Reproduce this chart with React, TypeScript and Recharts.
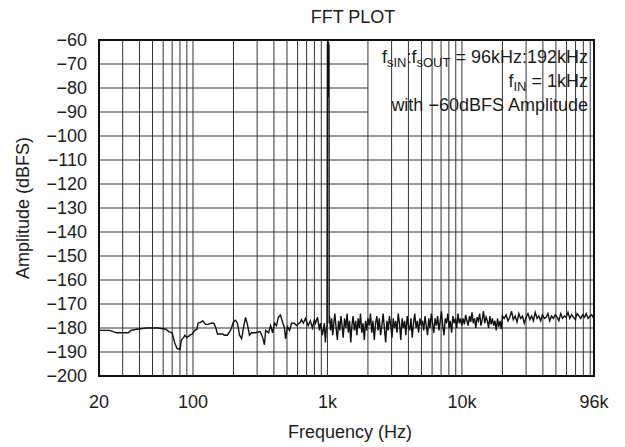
import { LineChart, Line, XAxis, YAxis, CartesianGrid, ReferenceLine, ReferenceArea } from 'recharts';

// noise floor below the tone, [Hz, dBFS]
const lowBand = [
  [20, -181], [24, -181], [27, -182], [30, -182], [33, -182], [34.5, -181], [38, -180.5], [45, -180],
  [55, -180], [63, -180.5], [66, -181.5], [70, -182], [73, -186], [76, -188.5], [80, -189], [82, -185],
  [85, -184], [87, -183], [90, -184], [95, -183], [99, -182.5], [103, -181], [107, -180.5], [109, -178],
  [115, -177.5], [118, -177], [124, -178.5], [130, -178.5], [136, -178], [143, -178], [148, -180],
  [152, -182.5], [165, -182.5], [172, -183], [180, -183], [190, -181], [200, -177.5], [207, -176.8],
  [214, -178], [222, -183], [230, -184.5], [238, -179.5], [246, -175.6], [254, -178.5], [263, -183],
  [273, -182], [292, -182], [316, -181.5], [330, -184], [340, -187], [347, -181], [365, -182],
  [378, -179], [391, -182], [404, -178], [418, -179], [432, -175.5], [447, -174.6], [463, -177.5],
  [479, -180], [488, -184.5], [505, -179.5], [523, -181], [540, -178], [568, -178], [588, -179],
  [630, -177.5], [640, -176.5], [662, -178], [686, -176], [720, -179], [746, -177], [773, -180],
  [800, -176.5], [815, -178], [843, -175.5], [872, -181], [887, -178], [918, -183], [948, -178],
  [965, -186], [982, -180],
];

// the 1 kHz input tone
const tone = [
  [992, -179], [1000, -62], [1004, -60], [1008, -84], [1012, -60], [1016, -84], [1020, -61],
  [1024, -84], [1027, -62], [1030, -178],
];

// noise floor above the tone
const highBand = [
  [1035, -175], [1055, -181], [1075, -176], [1095, -183], [1115, -178], [1135, -174], [1160, -180],
  [1185, -185], [1210, -177], [1235, -181], [1260, -175], [1285, -179], [1310, -184], [1340, -176],
  [1370, -180], [1400, -174], [1430, -182], [1460, -177], [1490, -186], [1520, -179], [1550, -175],
  [1585, -181], [1620, -177], [1655, -183], [1690, -176], [1725, -180], [1760, -174], [1800, -182],
  [1840, -178], [1880, -185], [1920, -177], [1960, -181], [2000, -176],
  [2045, -179], [2090, -174], [2135, -182], [2180, -177], [2230, -185], [2280, -178], [2330, -175],
  [2380, -181], [2430, -176], [2485, -183], [2540, -179], [2595, -174], [2650, -180], [2710, -186],
  [2770, -177], [2830, -181], [2890, -175], [2955, -179], [3020, -184], [3085, -176], [3150, -180],
  [3220, -177], [3290, -182], [3360, -174], [3435, -178], [3510, -185], [3590, -176], [3670, -180],
  [3750, -177], [3830, -183], [3915, -175], [4000, -179], [4090, -181], [4180, -176], [4270, -184],
  [4365, -178], [4460, -174], [4560, -180], [4660, -177], [4760, -182], [4870, -176], [4980, -179],
  [5090, -177], [5200, -181], [5315, -175], [5430, -179], [5550, -183], [5670, -176], [5795, -180],
  [5920, -174], [6050, -178], [6185, -182], [6320, -176], [6460, -179], [6600, -175], [6745, -181],
  [6895, -177], [7045, -173], [7200, -179], [7360, -183], [7520, -176], [7685, -178], [7855, -174],
  [8030, -180], [8205, -177], [8385, -182], [8570, -175], [8760, -178], [8950, -176], [9150, -180],
  [9350, -174], [9555, -178], [9765, -176], [9980, -179],
  [10200, -176], [10430, -178.5], [10660, -174.5], [10890, -177], [11130, -179], [11380, -175],
  [11630, -177.5], [11890, -173.5], [12150, -178], [12420, -176], [12690, -180], [12970, -175.5],
  [13260, -177], [13550, -174], [13850, -179], [14160, -176.5], [14470, -173], [14790, -178],
  [15120, -175.5], [15450, -177], [15790, -180], [16140, -175], [16500, -178.5], [16860, -176],
  [17230, -179], [17610, -177], [18000, -181], [18400, -176], [18800, -179.5], [19220, -177],
  [19640, -180.5], [20000, -175],
  [20600, -176], [21300, -174.5], [22000, -177], [22700, -175.5], [23400, -173], [24100, -176.5],
  [24900, -175], [25700, -177.5], [26500, -174], [27300, -176], [28200, -175], [29100, -178],
  [30000, -175.5], [31000, -174], [32000, -176.5], [33000, -175], [34000, -177], [35100, -173.5],
  [36200, -176], [37300, -175], [38500, -177], [39700, -174.5], [41000, -176], [42300, -175.5],
  [43600, -174], [45000, -177], [46400, -175], [47900, -176], [49400, -174.5], [51000, -175.5],
  [52600, -177], [54300, -174], [56000, -176], [57800, -175], [59600, -175.5], [61500, -173.5],
  [63400, -176], [65400, -174.5], [67500, -175.5], [69700, -176.5], [71900, -174], [74200, -175],
  [76500, -176], [79000, -174.5], [81500, -175.5], [84000, -174], [86700, -176], [89500, -175],
  [92300, -174.5], [94500, -175.5], [96000, -175],
];

const xTicks = [20, 100, 1000, 10000, 96000];
const xTickLabels = ['20', '100', '1k', '10k', '96k'];
const yTicks = [-200, -190, -180, -170, -160, -150, -140, -130, -120, -110, -100, -90, -80, -70, -60];
const gridFreqs = [
  30, 40, 50, 60, 70, 80, 90, 100, 200, 300, 400, 500, 600, 700, 800, 900, 1000,
  2000, 3000, 4000, 5000, 6000, 7000, 8000, 9000, 10000, 20000, 30000, 40000, 50000,
  60000, 70000, 80000, 90000,
];

const data = [...lowBand, ...tone, ...highBand].map(([f, db]) => ({ f, db }));

const font = '"Liberation Sans", Arial, Helvetica, sans-serif';
const ink = '#1c1c1c';

export default function App() {
  return (
    <div style={{ position: 'absolute', left: 0, top: 0, width: 625, height: 447, background: '#fff', fontFamily: font }}>
      <LineChart width={625} height={447} data={data} margin={{ top: 40, right: 31, bottom: 41, left: 39 }}>
        <CartesianGrid vertical={false} stroke="#333" strokeOpacity={1} />
        {gridFreqs.map((g) => (
          <ReferenceLine key={g} x={g} stroke="#333" strokeWidth={1} />
        ))}
        {/* white box behind the annotation */}
        <ReferenceArea x1={2000} x2={96000} y1={-92} y2={-60} fill="#fff" fillOpacity={1} stroke="none" />
        <XAxis
          dataKey="f"
          type="number"
          scale="log"
          domain={[20, 96000]}
          allowDataOverflow
          ticks={xTicks}
          interval={0}
          tickFormatter={(v) => xTickLabels[xTicks.indexOf(v)]}
          axisLine={false}
          tickLine={false}
          tickSize={0}
          tickMargin={19}
          height={30}
          tick={{ fill: ink, fontSize: 18, fontFamily: font }}
        />
        <YAxis
          type="number"
          domain={[-200, -60]}
          ticks={yTicks}
          interval={0}
          tickFormatter={(v) => String(v).replace('-', '\u2212')}
          axisLine={false}
          tickLine={false}
          tickSize={0}
          tickMargin={12}
          width={60}
          tick={{ fill: ink, fontSize: 18, fontFamily: font }}
        />
        <Line type="linear" dataKey="db" stroke="#111" strokeWidth={1.4} dot={false} isAnimationActive={false} />
        <ReferenceArea x1={20} x2={96000} y1={-200} y2={-60} fill="none" stroke="#111" strokeWidth={2} />
      </LineChart>
      <svg width={625} height={447} style={{ position: 'absolute', left: 0, top: 0, pointerEvents: 'none' }}>
        <g fontFamily={font} fill={ink} fontSize={18}>
          <text x={353} y={23} textAnchor="middle">FFT PLOT</text>
          <text x={350} y={438} textAnchor="middle">Frequency (Hz)</text>
          <text x={29} y={208} textAnchor="middle" transform="rotate(-90 29 208)">Amplitude (dBFS)</text>
          <text x={588} y={63} textAnchor="end">
            f<tspan fontSize={13} dy={4}>sIN</tspan>
            <tspan dy={-4}>:f</tspan>
            <tspan fontSize={13} dy={4}>sOUT</tspan>
            <tspan dy={-4}> = 96kHz:192kHz</tspan>
          </text>
          <text x={588} y={87} textAnchor="end">
            f<tspan fontSize={13} dy={4}>IN</tspan>
            <tspan dy={-4}> = 1kHz</tspan>
          </text>
          <text x={588} y={111} textAnchor="end">with {'\u2212'}60dBFS Amplitude</text>
        </g>
      </svg>
    </div>
  );
}
